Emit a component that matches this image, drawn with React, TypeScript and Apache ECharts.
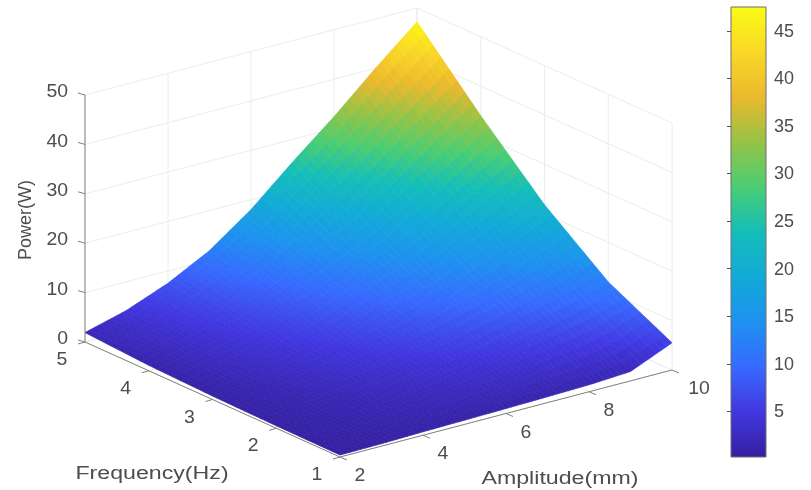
import React, { useEffect, useRef } from "react";
import * as echarts from "echarts";

const amplitudes = [2, 3, 4, 5, 6, 7, 8, 9, 10];
const frequencies = [1, 2, 3, 4, 5];
const powerF1 = [0.4, 0.5, 0.7, 0.85, 1.0, 1.2, 1.4, 1.9, 5.5];
const powerF2 = [0.5, 1.1, 1.9, 2.9, 4.1, 5.5, 7.2, 9.4, 12.0];
const powerF3 = [0.7, 1.9, 3.4, 5.3, 7.8, 10.8, 14.0, 17.8, 21.8];
const powerF4 = [1.1, 3.0, 5.4, 8.4, 12.3, 16.8, 22.0, 28.0, 34.0];
const powerF5 = [1.9, 4.2, 7.5, 11.9, 18.0, 25.4, 32.4, 40.0, 47.2];
const powerRows = [powerF1, powerF2, powerF3, powerF4, powerF5];

const ampTicks = [2, 4, 6, 8, 10];
const freqTicks = [1, 2, 3, 4, 5];
const powerTicks = [0, 10, 20, 30, 40, 50];
const barTicks = [5, 10, 15, 20, 25, 30, 35, 40, 45];
const barMin = 0.2;
const barMax = 47.5;

const parula: number[][] = [
  [53, 32, 160], [66, 55, 225], [55, 105, 255], [30, 145, 240], [18, 170, 215],
  [20, 190, 185], [75, 205, 115], [150, 195, 70], [235, 185, 45], [250, 215, 40], [249, 251, 21],
];
const colorAt = (z: number) => {
  const t = Math.min(1, Math.max(0, (z - barMin) / (barMax - barMin))) * (parula.length - 1);
  const i = Math.min(parula.length - 2, Math.floor(t));
  const f = t - i;
  const c = parula[i].map((v, k) => Math.round(v + (parula[i + 1][k] - v) * f));
  return `rgb(${c[0]},${c[1]},${c[2]})`;
};

// orthographic view of the MATLAB box, in the helper axes' units
const project = (a: number, f: number, z: number): [number, number] => [
  340 + ((a - 2) / 8) * 332 - ((f - 1) / 4) * 255,
  457 - ((a - 2) / 8) * 87 - ((f - 1) / 4) * 115 - z * 4.94,
];

const TEXT = "#4d4d4d";
const FONT = "Liberation Sans, Arial, sans-serif";
const SUB = 8;

const cells: number[][] = [];
for (let j = frequencies.length - 2; j >= 0; j--)
  for (let i = amplitudes.length - 2; i >= 0; i--) cells.push([i, j]);

function renderCell(params: any, api: any) {
  const i = api.value(0);
  const j = api.value(1);
  const a0 = amplitudes[i], a1 = amplitudes[i + 1];
  const f0 = frequencies[j], f1 = frequencies[j + 1];
  const z00 = powerRows[j][i], z10 = powerRows[j][i + 1], z01 = powerRows[j + 1][i], z11 = powerRows[j + 1][i + 1];
  const sample = (u: number, v: number) => {
    const z = z00 * (1 - u) * (1 - v) + z10 * u * (1 - v) + z01 * (1 - u) * v + z11 * u * v;
    return { z, p: api.coord(project(a0 + (a1 - a0) * u, f0 + (f1 - f0) * v, z)) };
  };
  const children: any[] = [];
  for (let q = SUB - 1; q >= 0; q--) {
    for (let r = SUB - 1; r >= 0; r--) {
      const u0 = r / SUB, u1 = (r + 1) / SUB, v0 = q / SUB, v1 = (q + 1) / SUB;
      const c = sample((u0 + u1) / 2, (v0 + v1) / 2);
      const color = colorAt(c.z);
      children.push({
        type: "polygon",
        shape: { points: [sample(u0, v0).p, sample(u1, v0).p, sample(u1, v1).p, sample(u0, v1).p] },
        style: { fill: color, stroke: color, lineWidth: 0.7 },
      });
    }
  }
  return { type: "group", children };
}

function renderFrame(params: any, api: any) {
  const children: any[] = [];
  const line = (p: number[], q: number[], stroke: string, lineWidth = 1) =>
    children.push({
      type: "line",
      shape: { x1: p[0], y1: p[1], x2: q[0], y2: q[1] },
      style: { stroke, lineWidth },
    });
  const P = (a: number, f: number, z: number) => api.coord(project(a, f, z)) as number[];
  const GRID = "#ececec";
  powerTicks.forEach((z) => {
    line(P(2, 5, z), P(10, 5, z), GRID);
    line(P(10, 5, z), P(10, 1, z), GRID);
  });
  ampTicks.forEach((a) => {
    line(P(a, 5, 0), P(a, 5, 50), GRID);
    line(P(a, 1, 0), P(a, 5, 0), GRID);
  });
  freqTicks.forEach((f) => {
    line(P(10, f, 0), P(10, f, 50), GRID);
    line(P(2, f, 0), P(10, f, 0), GRID);
  });
  return { type: "group", children };
}

function renderAxes(params: any, api: any) {
  const children: any[] = [];
  const line = (p: number[], q: number[]) =>
    children.push({
      type: "line",
      shape: { x1: p[0], y1: p[1], x2: q[0], y2: q[1] },
      style: { stroke: "#808080", lineWidth: 1 },
    });
  const label = (text: string, p: number[], align = "center", scaleX = 1.08, fontSize = 18) =>
    children.push({
      type: "text",
      x: p[0],
      y: p[1],
      scaleX,
      style: { text, x: 0, y: 0, align, verticalAlign: "middle", fontSize, fontFamily: FONT, fill: TEXT },
    });
  const P = (a: number, f: number, z: number) => api.coord(project(a, f, z)) as number[];
  line(P(2, 5, 0), P(2, 5, 50));
  line(P(2, 5, 0), P(2, 1, 0));
  line(P(2, 1, 0), P(10, 1, 0));
  powerTicks.forEach((z) => {
    const p = P(2, 5, z);
    line(p, [p[0] - 7, p[1] - 2]);
    label(String(z), [p[0] - 17, p[1] - 4], "right");
  });
  freqTicks.forEach((f) => {
    const p = P(2, f, 0);
    line(p, [p[0] - 7, p[1] + 2]);
    label(String(f), [p[0] - 23, p[1] + 17]);
  });
  ampTicks.forEach((a) => {
    const p = P(a, 1, 0);
    line(p, [p[0] + 7, p[1] + 3]);
    label(String(a), [p[0] + (a === 10 ? 27 : 20), p[1] + 18]);
  });
  label("Frequency(Hz)", [152, 472], "center", 1.22, 19);
  label("Amplitude(mm)", [560, 477], "center", 1.22, 19);
  children.push({
    type: "text",
    x: 25,
    y: 220,
    rotation: Math.PI / 2,
    style: { text: "Power(W)", x: 0, y: 0, align: "center", verticalAlign: "middle", fontSize: 18, fontFamily: FONT, fill: TEXT },
  });
  return { type: "group", children };
}

function renderBar(params: any, api: any) {
  const s = api.size([1, barMax - barMin]);
  const top = api.coord([0, barMax]);
  const n = parula.length - 1;
  const stops = parula
    .map((c, i) => ({ offset: 1 - i / n, color: `rgb(${c[0]},${c[1]},${c[2]})` }))
    .reverse();
  return {
    type: "rect",
    shape: { x: top[0], y: top[1], width: s[0], height: s[1] },
    style: {
      fill: new echarts.graphic.LinearGradient(0, 0, 0, 1, stops),
      stroke: "#6f6f6f",
      lineWidth: 1,
    },
  };
}

export default function App() {
  const ref = useRef<HTMLDivElement>(null);
  useEffect(() => {
    const chart = echarts.init(ref.current!, undefined, { renderer: "svg" });
    chart.setOption({
      animation: false,
      backgroundColor: "#ffffff",
      grid: [
        { left: 0, top: 0, width: 811, height: 490 },
        { left: 731, top: 7, width: 35, height: 450 },
      ],
      xAxis: [
        { show: false, type: "value", min: 0, max: 811, gridIndex: 0 },
        { show: false, type: "value", min: 0, max: 1, gridIndex: 1 },
      ],
      yAxis: [
        { show: false, type: "value", min: 0, max: 490, inverse: true, gridIndex: 0 },
        {
          type: "value",
          gridIndex: 1,
          position: "right",
          min: barMin,
          max: barMax,
          splitLine: { show: false },
          axisLine: { show: false },
          axisTick: { show: true, inside: true, length: 4, lineStyle: { color: "#555555" }, customValues: barTicks },
          axisLabel: {
            show: true,
            customValues: barTicks,
            margin: 8,
            fontSize: 18,
            fontFamily: FONT,
            color: TEXT,
          },
          z: 5,
        },
      ],
      series: [
        { type: "custom", xAxisIndex: 0, yAxisIndex: 0, data: [[0, 0]], renderItem: renderFrame, silent: true, clip: false, z: 1 },
        { type: "custom", xAxisIndex: 0, yAxisIndex: 0, data: cells, renderItem: renderCell, silent: true, clip: false, z: 2 },
        { type: "custom", xAxisIndex: 0, yAxisIndex: 0, data: [[0, 0]], renderItem: renderAxes, silent: true, clip: false, z: 3 },
        { type: "custom", xAxisIndex: 1, yAxisIndex: 1, data: [[0, barMin]], renderItem: renderBar, silent: true, clip: false, z: 1 },
      ],
    });
    return () => chart.dispose();
  }, []);
  return (
    <div
      ref={ref}
      style={{ position: "absolute", left: 0, top: 0, width: 811, height: 490, filter: "blur(0.5px)" }}
    />
  );
}
